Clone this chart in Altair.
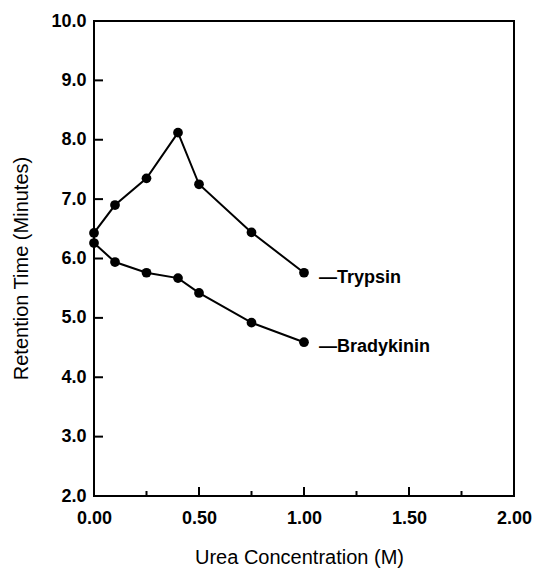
import altair as alt
import pandas as pd

# Retention time of two peptides versus urea concentration
urea_m = [0.0, 0.1, 0.25, 0.4, 0.5, 0.75, 1.0]
trypsin_min = [6.43, 6.90, 7.35, 8.12, 7.25, 6.44, 5.76]
bradykinin_min = [6.26, 5.94, 5.76, 5.67, 5.42, 4.92, 4.59]
series_names = ["Trypsin", "Bradykinin"]

# Axis tick values
x_major = [0.0, 0.5, 1.0, 1.5, 2.0]
x_minor = [0.25, 0.75, 1.25, 1.75]
y_major = [2, 3, 4, 5, 6, 7, 8, 9, 10]

FONT = "Liberation Sans"
W, H = 420, 475

rows = []
for name, vals in zip(series_names, [trypsin_min, bradykinin_min]):
    for x, y in zip(urea_m, vals):
        rows.append({"series": name, "urea": x, "rt": y})
df = pd.DataFrame(rows)

last = df.loc[df.groupby("series")["urea"].idxmax()].copy()
last["label"] = "\u2014" + last["series"]

xscale = alt.Scale(domain=[0, 2], nice=False, zero=False)
yscale = alt.Scale(domain=[2, 10], nice=False, zero=False)

x_axis = alt.Axis(
    values=x_major, format=".2f", labelFlush=False, labelOverlap=False,
    ticks=False, domain=False, grid=False,
    labelFont=FONT, labelFontSize=18, labelFontWeight="bold", labelColor="black",
    labelPadding=13,
    title="Urea Concentration (M)", titleFont=FONT, titleFontSize=20,
    titleFontWeight="normal", titleColor="black",
    titleX=205, titleY=61, titleBaseline="middle", titleAlign="center",
)
y_axis = alt.Axis(
    values=y_major, format=".1f", labelFlush=False, labelOverlap=False,
    ticks=False, domain=False, grid=False,
    labelFont=FONT, labelFontSize=18, labelFontWeight="bold", labelColor="black",
    labelPadding=8, labelBaseline="middle",
    title="Retention Time (Minutes)", titleFont=FONT, titleFontSize=20,
    titleFontWeight="normal", titleColor="black",
    titleX=-73, titleY=247, titleBaseline="middle", titleAlign="center",
    titleAngle=270,
)

X = lambda f: alt.X(f, scale=xscale, axis=x_axis)
Y = lambda f: alt.Y(f, scale=yscale, axis=y_axis)

base = alt.Chart(df)

lines = base.mark_line(color="black", strokeWidth=2).encode(
    x=X("urea:Q"), y=Y("rt:Q"), detail="series:N",
)
points = base.mark_circle(color="black", size=95, opacity=1).encode(
    x=X("urea:Q"), y=Y("rt:Q"),
)
labels = alt.Chart(last).mark_text(
    align="left", baseline="middle", dx=15, dy=5,
    font=FONT, fontSize=18, fontWeight="bold", color="black",
).encode(
    x=X("urea:Q"), y=Y("rt:Q"), text="label:N",
)

# Inward tick marks along the bottom and left edges
xmaj = alt.Chart(pd.DataFrame({"v": x_major[1:-1]})).mark_rule(
    color="black", strokeWidth=2
).encode(x=X("v:Q"), y=alt.value(H), y2=alt.value(H - 9))
xmin = alt.Chart(pd.DataFrame({"v": x_minor})).mark_rule(
    color="black", strokeWidth=2
).encode(x=X("v:Q"), y=alt.value(H), y2=alt.value(H - 5))
ymaj = alt.Chart(pd.DataFrame({"v": y_major[1:-1]})).mark_rule(
    color="black", strokeWidth=2
).encode(y=Y("v:Q"), x=alt.value(0), x2=alt.value(9))

chart = alt.layer(lines, points, labels, xmaj, xmin, ymaj).properties(
    width=W, height=H,
    padding={"left": 94, "top": 21, "right": 20, "bottom": 72},
    autosize="none",
    background="white",
).configure_view(stroke="black", strokeWidth=2)

chart.save("out.html", embed_options={"renderer": "svg", "actions": False})
